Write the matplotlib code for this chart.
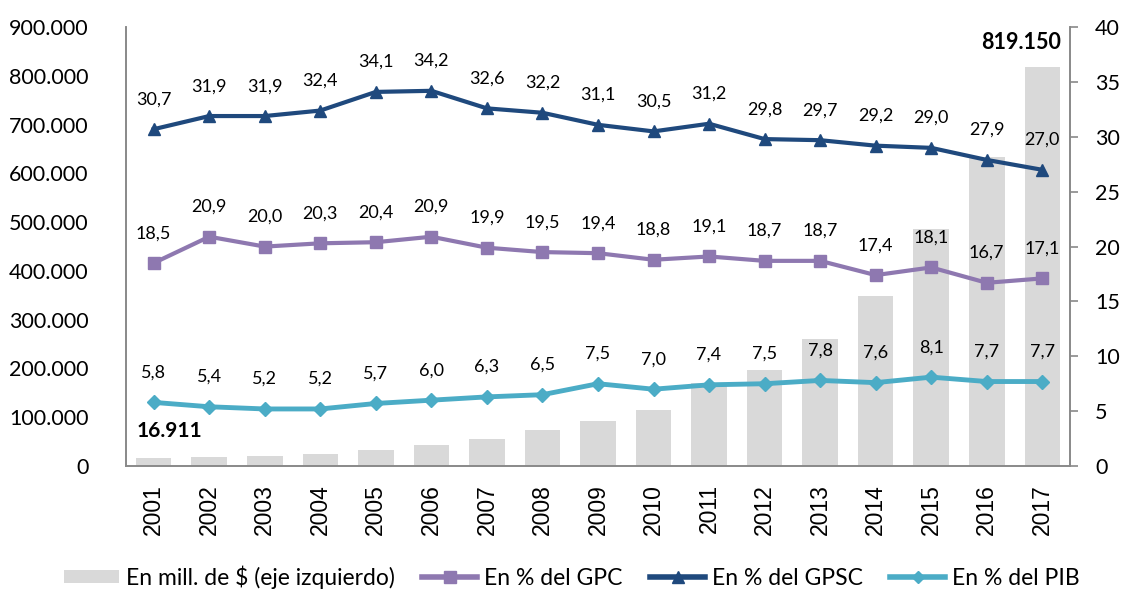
import numpy as np
import matplotlib
matplotlib.use('Agg')
import matplotlib.pyplot as plt
from matplotlib.ticker import FuncFormatter, MultipleLocator
from matplotlib.patches import Patch
from matplotlib.lines import Line2D

years = [str(y) for y in range(2001, 2018)]
mill_pesos = [16911, 19000, 21000, 25000, 33000, 42500, 56000, 74000, 92000,
              115000, 170000, 197000, 260000, 349000, 486000, 634000, 819150]
pct_gpc = [18.5, 20.9, 20.0, 20.3, 20.4, 20.9, 19.9, 19.5, 19.4,
           18.8, 19.1, 18.7, 18.7, 17.4, 18.1, 16.7, 17.1]
pct_gpsc = [30.7, 31.9, 31.9, 32.4, 34.1, 34.2, 32.6, 32.2, 31.1,
            30.5, 31.2, 29.8, 29.7, 29.2, 29.0, 27.9, 27.0]
pct_pib = [5.8, 5.4, 5.2, 5.2, 5.7, 6.0, 6.3, 6.5, 7.5,
           7.0, 7.4, 7.5, 7.8, 7.6, 8.1, 7.7, 7.7]

c_bar = '#D9D9D9'
c_gpc = '#8E78B0'
c_gpsc = '#1F497D'
c_pib = '#4BACC6'
c_axis = '#898989'
lab_font = 'Lato'

fig = plt.figure(figsize=(11.24, 5.91), dpi=100)
ax = fig.add_axes([0.112, 0.2115, 0.84, 0.7425])
ax2 = ax.twinx()

x = np.arange(len(years))
ax.bar(x, mill_pesos, width=0.64, color=c_bar, zorder=1)
ax.set_ylim(0, 900000)
ax.set_xlim(-0.5, len(years) - 0.5)
ax.yaxis.set_major_locator(MultipleLocator(100000))
ax.yaxis.set_major_formatter(FuncFormatter(lambda v, p: f'{int(v):,}'.replace(',', '.')))

ax2.plot(x, pct_gpsc, color=c_gpsc, lw=3, marker='^', ms=9, zorder=3)
ax2.plot(x, pct_gpc, color=c_gpc, lw=3, marker='s', ms=9, zorder=3)
ax2.plot(x, pct_pib, color=c_pib, lw=3.5, marker='D', ms=7, zorder=3)
ax2.set_ylim(0, 40)
ax2.yaxis.set_major_locator(MultipleLocator(5))

for series in (pct_gpsc, pct_gpc, pct_pib):
    for xi, v in zip(x, series):
        ax2.annotate(f'{v:.1f}'.replace('.', ','), (xi, v), xytext=(0, 21.5),
                     textcoords='offset points', ha='center', va='center',
                     fontsize=13, family=lab_font)

ax.annotate('16.911', (x[0], mill_pesos[0]), xytext=(11.5, 19),
            textcoords='offset points', ha='center', va='center',
            fontsize=15, fontweight='bold', family=lab_font)
ax.annotate('819.150', (x[-1], mill_pesos[-1]), xytext=(-15, 17),
            textcoords='offset points', ha='center', va='center',
            fontsize=15.5, fontweight='bold', family=lab_font)

for a in (ax, ax2):
    a.spines['top'].set_visible(False)
    for s in ('left', 'right', 'bottom'):
        a.spines[s].set_color(c_axis)
        a.spines[s].set_linewidth(1.2)

ax.set_xticks(x)
ax.set_xticklabels(years, rotation=90, fontsize=16.5, family='Liberation Sans')
ax.tick_params(axis='x', length=0, pad=13)
ax.tick_params(axis='y', length=0, pad=27, labelsize=15.5)
for t in ax.get_yticklabels():
    t.set_family(lab_font)
ax2.tick_params(axis='y', length=6, width=1.2, color=c_axis, pad=12, labelsize=15.5)
for t in ax2.get_yticklabels():
    t.set_family(lab_font)

handles = [
    Patch(facecolor=c_bar, edgecolor='none'),
    Line2D([], [], color=c_gpc, lw=4, marker='s', ms=9),
    Line2D([], [], color=c_gpsc, lw=4, marker='^', ms=9),
    Line2D([], [], color=c_pib, lw=4, marker='D', ms=6),
]
labels = ['En mill. de $ (eje izquierdo)', 'En % del GPC', 'En % del GPSC', 'En % del PIB']
fig.legend(handles, labels, loc='center', bbox_to_anchor=(0.509, 0.024), ncol=4,
           frameon=False, prop={'family': lab_font, 'size': 16.5},
           handlelength=2.4, handleheight=0.55, handletextpad=0.3, columnspacing=1.2)

plt.savefig('out.png', dpi=100)
